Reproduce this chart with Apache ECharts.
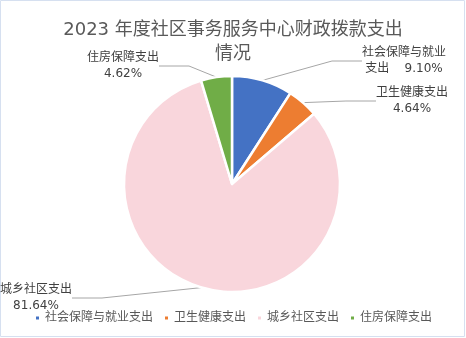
<!DOCTYPE html>
<html>
<head>
<meta charset="utf-8">
<script src="https://cdn.jsdelivr.net/npm/echarts@6/dist/echarts.min.js"></script>
<style>
  html, body { margin: 0; padding: 0; background: #fff; }
  #chart { width: 466px; height: 338px; }
</style>
</head>
<body>
<div id="chart"></div>
<script>
// 2023 community service center appropriation spending, share by category (%)
const categories = ['社会保障与就业支出', '卫生健康支出', '城乡社区支出', '住房保障支出'];
const shares = [9.10, 4.64, 81.64, 4.62];
const labelTexts = ['社会保障与就业\n支出    9.10%', '卫生健康支出\n4.64%', '城乡社区支出\n81.64%', '住房保障支出\n4.62%'];
const colors = ['#4472C4', '#ED7D31', '#F9D6DC', '#70AD47'];

// label box centres (px)
const labelSpots = [[404, 61], [412, 101], [36, 298], [123, 66]];

const chart = echarts.init(document.getElementById('chart'), null, { renderer: 'canvas' });
const font = '"DejaVu Sans", "Noto Sans CJK SC", sans-serif';

chart.setOption({
  animation: false,
  color: colors,
  title: {
    text: '2023 年度社区事务服务中心财政拨款支出\n情况',
    left: 'center',
    top: 13,
    textStyle: { fontFamily: font, fontSize: 18, fontWeight: 'normal', color: '#595959', lineHeight: 24 }
  },
  legend: {
    bottom: 9,
    left: 'center',
    icon: 'rect',
    itemWidth: 5,
    itemHeight: 5,
    itemGap: 10,
    textStyle: { fontFamily: font, fontSize: 12, color: '#595959' },
    data: categories
  },
  graphic: [{
    type: 'rect',
    shape: { x: 0.5, y: 0.5, width: 464, height: 336 },
    style: { fill: 'none', stroke: '#D6E0F0', lineWidth: 1 },
    silent: true
  }],
  series: [{
    type: 'pie',
    center: [232, 184],
    radius: 108,
    startAngle: 90,
    clockwise: true,
    itemStyle: { borderColor: '#fff', borderWidth: 2.5 },
    label: {
      show: true,
      fontFamily: font,
      fontSize: 12,
      color: '#404040',
      lineHeight: 16,
      align: 'center',
      formatter: (p) => labelTexts[p.dataIndex]
    },
    labelLine: { show: true, lineStyle: { color: '#A6A6A6', width: 1 } },
    labelLayout: (params) => ({
      x: labelSpots[params.dataIndex][0],
      y: labelSpots[params.dataIndex][1],
      align: 'center',
      verticalAlign: 'middle'
    }),
    data: categories.map((name, i) => ({ name, value: shares[i] }))
  }]
});
</script>
</body>
</html>
